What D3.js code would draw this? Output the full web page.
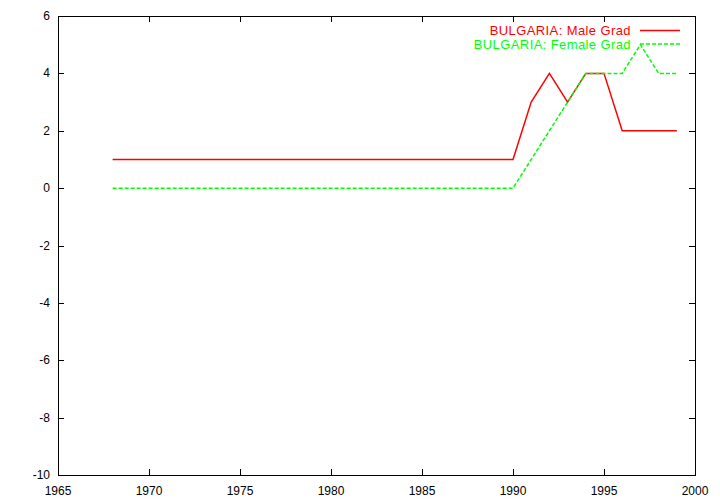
<!DOCTYPE html>
<html><head><meta charset="utf-8">
<script src="https://cdn.jsdelivr.net/npm/d3@7"></script>
<style>body{margin:0;background:#fff}svg{display:block}</style>
</head><body>
<script>
const years = [1968,1969,1970,1971,1972,1973,1974,1975,1976,1977,1978,1979,1980,1981,1982,1983,1984,1985,1986,1987,1988,1989,1990,1991,1992,1993,1994,1995,1996,1997,1998,1999];
const maleGrad = [1,1,1,1,1,1,1,1,1,1,1,1,1,1,1,1,1,1,1,1,1,1,1,3,4,3,4,4,2,2,2,2];
const femaleGrad = [0,0,0,0,0,0,0,0,0,0,0,0,0,0,0,0,0,0,0,0,0,0,0,1,2,3,4,4,4,5,4,4];
const xTicks = [1965,1970,1975,1980,1985,1990,1995,2000];
const yTicks = [-10,-8,-6,-4,-2,0,2,4,6];
const seriesNames = ["BULGARIA: Male Grad","BULGARIA: Female Grad"];

const W=720,H=504;
const L=58,R=695,T=16,B=475;
const svg=d3.select("body").append("svg").attr("width",W).attr("height",H);
const x=d3.scaleLinear().domain([1965,2000]).range([L,R]);
const y=d3.scaleLinear().domain([-10,6]).range([B,T]);
const font="Liberation Sans, Arial, Helvetica, sans-serif";

// ticks inward on all four sides
const tl=6;
const g=svg.append("g").attr("stroke","#000").attr("stroke-width",1);
xTicks.forEach(v=>{
  const px=Math.round(x(v))+0.5;
  g.append("line").attr("x1",px).attr("x2",px).attr("y1",B).attr("y2",B-tl);
  g.append("line").attr("x1",px).attr("x2",px).attr("y1",T).attr("y2",T+tl);
});
yTicks.forEach(v=>{
  const py=Math.round(y(v))+0.5;
  g.append("line").attr("x1",L).attr("x2",L+tl).attr("y1",py).attr("y2",py);
  g.append("line").attr("x1",R).attr("x2",R-tl).attr("y1",py).attr("y2",py);
});
svg.append("rect").attr("x",L+0.5).attr("y",T+0.5).attr("width",R-L).attr("height",B-T)
  .attr("fill","none").attr("stroke","#000");

xTicks.forEach(v=>{
  svg.append("text").attr("x",x(v)).attr("y",B+20).attr("text-anchor","middle")
    .attr("font-family",font).attr("font-size",12).text(v);
});
yTicks.forEach(v=>{
  svg.append("text").attr("x",L-8).attr("y",y(v)+4).attr("text-anchor","end")
    .attr("font-family",font).attr("font-size",12).text(v);
});

const line=d3.line().x(d=>x(d[0])).y(d=>y(d[1]));
const series=[
  {name:seriesNames[0],vals:maleGrad,color:"#ff0000",dash:null},
  {name:seriesNames[1],vals:femaleGrad,color:"#00ff00",dash:"4,2"}
];
series.forEach((s,i)=>{
  svg.append("path").datum(years.map((yr,j)=>[yr,s.vals[j]]))
    .attr("d",line).attr("fill","none").attr("stroke",s.color).attr("stroke-width",1.5)
    .attr("stroke-dasharray",s.dash);
  const ly=30.5+i*13.5;
  svg.append("text").attr("x",631).attr("y",ly+4.5).attr("text-anchor","end")
    .attr("font-family",font).attr("font-size",13).attr("letter-spacing",0.4)
    .attr("fill",s.color).text(s.name);
  svg.append("line").attr("x1",640).attr("x2",680).attr("y1",ly).attr("y2",ly)
    .attr("stroke",s.color).attr("stroke-width",1.5).attr("stroke-dasharray",s.dash);
});
</script>
</body></html>
